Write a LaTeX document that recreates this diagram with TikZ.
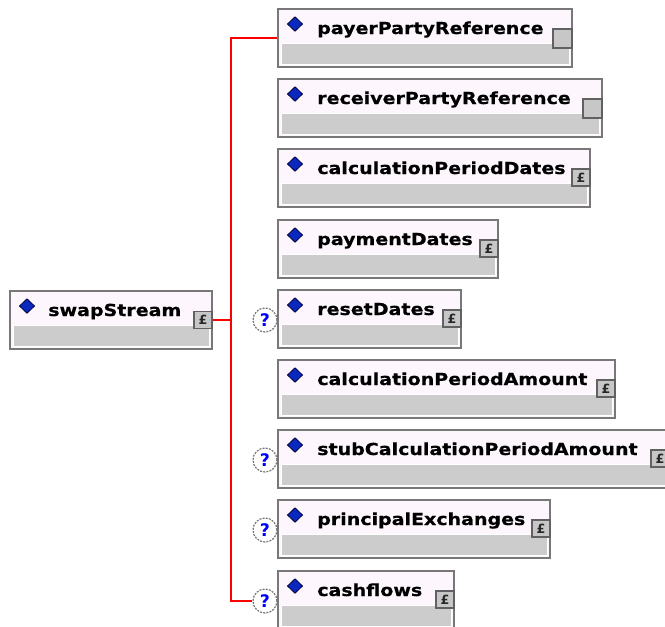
\documentclass[tikz,border=0pt]{standalone}
\usepackage{fontspec}
\newfontfamily\xsdfont{DejaVu Sans}[FakeStretch=1.15,BoldFeatures={FakeBold=0.6}]
\newfontfamily\qfont{DejaVu Sans}
\usetikzlibrary{shapes.geometric}

\definecolor{boxedge}{RGB}{120,120,120}
\definecolor{boxtop}{RGB}{253,247,253}
\definecolor{boxband}{RGB}{204,204,204}
\definecolor{diamblue}{RGB}{10,40,190}
\definecolor{diamedge}{RGB}{0,0,60}
\definecolor{qblue}{RGB}{0,0,255}
\definecolor{busred}{RGB}{255,0,0}

\begin{document}
\begin{tikzpicture}[x=0.75pt,y=0.75pt,yscale=-1,xscale=1,
  elembox/.style={rectangle,draw=boxedge,line width=1.1pt,fill=boxtop,inner sep=0pt,minimum height=43.5pt},
  bandfill/.style={fill=boxband,draw=white,line width=0.6pt},
  elemdiamond/.style={diamond,draw=diamedge,fill=diamblue,line width=0.6pt,inner sep=0pt,minimum width=11.5pt,minimum height=11pt},
  elemlabel/.style={anchor=base west,inner sep=0pt,font=\xsdfont\bfseries\fontsize{12.4}{14}\selectfont},
  expicon/.style={rectangle,draw=black!62,fill=black!22,line width=0.8pt,inner sep=0pt,minimum width=13.5pt,minimum height=12.75pt,text=black!85,font=\qfont\bfseries\fontsize{9.5}{9.5}\selectfont},
  plainicon/.style={rectangle,draw=black!62,fill=black!22,line width=1.1pt,inner sep=0pt,minimum size=14.25pt},
  optmark/.style={circle,draw=black!55,dash pattern=on 1.5pt off 0.9pt,fill=white,line width=0.9pt,minimum size=18pt,inner sep=0pt,text=qblue,font=\qfont\bfseries\fontsize{13}{13}\selectfont},
  busline/.style={draw=busred,line width=1.2pt}]
\useasboundingbox (0,0) rectangle (665,626);

%Element: swapStream
\node[elembox,minimum width=151.5pt] (swap) at (111,320) {};
\path[bandfill] (13,325) rectangle (209,346);
\node[elemdiamond] (swapdia) at (27,306) {};
\node[elemlabel] (swaplbl) at (48,316) {swapStream};
\node[expicon] (swapicon) at (203,320) {£};

%Element: payerPartyReference
\node[elembox,minimum width=220.5pt] (payer) at (425,38) {};
\path[bandfill] (281,43) rectangle (569,64);
\node[elemdiamond] (payerdia) at (295,24) {};
\node[elemlabel] (payerlbl) at (317,34) {payerPartyReference};
\node[plainicon] (payericon) at (562.5,38.5) {};

%Element: receiverPartyReference
\node[elembox,minimum width=243pt] (receiver) at (440,108) {};
\path[bandfill] (281,113) rectangle (599,134);
\node[elemdiamond] (receiverdia) at (295,94) {};
\node[elemlabel] (receiverlbl) at (317,104) {receiverPartyReference};
\node[plainicon] (receivericon) at (592.5,108.5) {};

%Element: calculationPeriodDates
\node[elembox,minimum width=234pt] (calcdates) at (434,178) {};
\path[bandfill] (281,183) rectangle (587,204);
\node[elemdiamond] (calcdatesdia) at (295,164) {};
\node[elemlabel] (calcdateslbl) at (317,174) {calculationPeriodDates};
\node[expicon] (calcdatesicon) at (581,177.5) {£};

%Element: paymentDates
\node[elembox,minimum width=165pt] (paydates) at (388,249) {};
\path[bandfill] (281,254) rectangle (495,275);
\node[elemdiamond] (paydatesdia) at (295,235) {};
\node[elemlabel] (paydateslbl) at (317,245) {paymentDates};
\node[expicon] (paydatesicon) at (489,248.5) {£};

%Element: resetDates
\node[elembox,minimum width=137.25pt] (reset) at (369.5,319) {};
\path[bandfill] (281,324) rectangle (458,345);
\node[elemdiamond] (resetdia) at (295,305) {};
\node[elemlabel] (resetlbl) at (317,315) {resetDates};
\node[expicon] (reseticon) at (452,318.5) {£};
\node[optmark] (resetq) at (265,320) {?};

%Element: calculationPeriodAmount
\node[elembox,minimum width=252.75pt] (calcamount) at (446.5,389) {};
\path[bandfill] (281,394) rectangle (612,415);
\node[elemdiamond] (calcamountdia) at (295,375) {};
\node[elemlabel] (calcamountlbl) at (317,385) {calculationPeriodAmount};
\node[expicon] (calcamounticon) at (606,388.5) {£};

%Element: stubCalculationPeriodAmount
\node[elembox,minimum width=293.25pt] (stub) at (473.5,459) {};
\path[bandfill] (281,464) rectangle (666,485);
\node[elemdiamond] (stubdia) at (295,445) {};
\node[elemlabel] (stublbl) at (317,455) {stubCalculationPeriodAmount};
\node[expicon] (stubicon) at (660,458.5) {£};
\node[optmark] (stubq) at (265,460) {?};

%Element: principalExchanges
\node[elembox,minimum width=204pt] (principal) at (414,529) {};
\path[bandfill] (281,534) rectangle (547,555);
\node[elemdiamond] (principaldia) at (295,515) {};
\node[elemlabel] (principallbl) at (317,525) {principalExchanges};
\node[expicon] (principalicon) at (541,528.5) {£};
\node[optmark] (principalq) at (265,530) {?};

%Element: cashflows
\node[elembox,minimum width=132pt] (cash) at (366,600) {};
\path[bandfill] (281,605) rectangle (451,626);
\node[elemdiamond] (cashdia) at (295,586) {};
\node[elemlabel] (cashlbl) at (317,596) {cashflows};
\node[expicon] (cashicon) at (445,599.5) {£};
\node[optmark] (cashq) at (265,601) {?};

%Connector: sequence bus
\coordinate (busjoin) at (231,320);
\draw[busline] (payer.west) -| (busjoin) |- (cashq.west);
\draw[busline,line width=1.5pt] (swapicon.east) -- (busjoin);

\end{tikzpicture}
\end{document}
